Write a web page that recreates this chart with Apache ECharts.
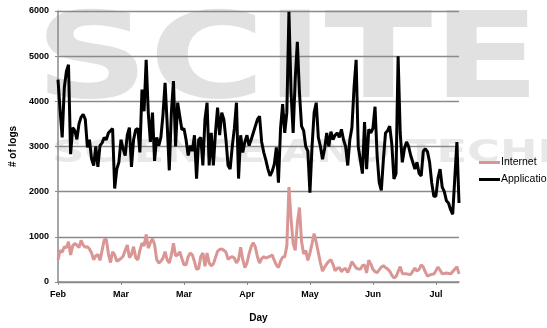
<!DOCTYPE html>
<html>
<head>
<meta charset="utf-8">
<script src="https://cdn.jsdelivr.net/npm/echarts@6/dist/echarts.min.js"></script>
<style>
  html, body { margin: 0; padding: 0; background: #fff; }
  #chart { width: 547px; height: 328px; }
</style>
</head>
<body>
<div id="chart"></div>
<script>
// Month labels placed every 30 days along the day axis
const monthTicks = ['Feb', 'Mar', 'Mar', 'Apr', 'May', 'Jun', 'Jul'];
const tickStep = 30;

// Daily log counts, Application
const application = [
  4480, 3800, 3200, 4300, 4660, 4810, 2830, 3420, 3350, 3160,
  3500, 3650, 3710, 3600, 2980, 3150, 2720, 2580, 3000, 2550,
  3020, 3080, 3200, 3150, 3300, 3350, 3400, 2070, 2500, 2650,
  3150, 2950, 2800, 3250, 3420, 2550, 3150, 3370, 3400, 2870,
  4260, 3780, 4920, 3750, 3100, 3750, 2680, 3200, 3020, 3200,
  3700, 4410, 3500, 2470, 3750, 4450, 3000, 3970, 3670, 3370,
  3400, 3150, 2800, 3020, 2900, 3250, 2290, 3150, 3200, 2580,
  3600, 3970, 2580, 3300, 2580, 3300, 3860, 3250, 3750, 3600,
  3150, 2580, 2500, 3000, 3400, 3970, 2290, 3250, 2870, 3100,
  3250, 3020, 3150, 3300, 3450, 3600, 3670, 3100, 2870, 2700,
  2500, 2350, 2450, 2600, 2980, 2200, 3400, 3940, 3300, 3750,
  5980, 4200, 3300, 4500, 5320, 4200, 3450, 3350, 3000, 2900,
  1980, 3000, 3750, 3970, 3200, 3000, 2720, 2950, 3300, 3000,
  3330, 3150, 3250, 3300, 3200, 3380, 3150, 3000, 2580, 3150,
  3420, 4300, 4920, 3000, 2700, 2400, 3540, 2500, 3380, 3300,
  3400, 3880, 2800, 2200, 2030, 2720, 3300, 3350, 3450, 3050,
  2280, 2400, 5000, 3300, 2650, 2950, 3100, 3000, 2800, 2650,
  2500, 2650, 2400, 2350, 2900, 2950, 2880, 2650, 2200, 1900,
  1900, 2300, 2500, 2100, 2000, 1800, 1750, 1600, 1500, 2300,
  3100, 1750
];

// Daily log counts, Internet
const internet = [
  490, 700, 660, 780, 760, 890, 600, 800, 850, 820,
  760, 920, 815, 770, 780, 730, 640, 490, 580, 610,
  480, 700, 930, 950, 630, 430, 670, 600, 460, 490,
  520, 570, 700, 820, 540, 610, 780, 540, 490, 700,
  860, 800, 1050, 750, 870, 960, 830, 500, 420, 460,
  530, 670, 490, 420, 600, 860, 580, 600, 670, 520,
  380, 380, 560, 640, 600, 450, 280, 300, 560, 640,
  350, 640, 420, 360, 400, 540, 680, 720, 730, 700,
  660, 500, 540, 560, 530, 420, 500, 770, 500, 320,
  420, 620, 780, 870, 770, 560, 420, 520, 560, 530,
  550, 570, 600, 480, 380, 320, 460, 550, 560, 800,
  2100, 1400, 850, 700, 1300, 1650, 900, 620, 700, 480,
  640, 850, 1070, 880, 650, 420, 240, 330, 400, 460,
  490, 390, 250, 300, 320, 230, 280, 300, 210, 320,
  450, 380, 310, 290, 280, 360, 380, 200, 480, 400,
  280, 230, 210, 270, 330, 360, 320, 290, 240, 150,
  90, 120, 230, 340, 190, 180, 180, 170, 165, 240,
  310, 240, 280, 380, 330, 220, 130, 150, 170, 175,
  250, 330, 260, 180, 190, 200, 190, 180, 230, 280,
  340, 180
];

const toPairs = arr => arr.map((v, i) => [i, v]);

const chart = echarts.init(document.getElementById('chart'), null, { renderer: 'canvas' });
const font = 'Liberation Sans, Arial, sans-serif';
const stamp = 'rgba(200,200,200,0.55)';

chart.setOption({
  animation: false,
  backgroundColor: '#ffffff',
  // faint publisher stamp behind the plot
  graphic: [
    {
      type: 'text', z: -10, silent: true,
      x: 35, y: 6, scaleX: 1.32,
      style: { text: 'SCITE', fill: stamp, font: 'bold 120px "DejaVu Sans", sans-serif' }
    },
    {
      type: 'text', z: -10, silent: true,
      x: 52, y: 138, scaleX: 1.4,
      style: { text: 'SCIENCE AND TECHNOLOGY', fill: 'rgba(205,205,205,0.45)', font: 'bold 32px "DejaVu Sans", sans-serif' }
    }
  ],
  grid: { left: 58, right: 88, top: 11, bottom: 44, containLabel: false },
  xAxis: {
    type: 'value',
    min: 0,
    max: application.length - 1,
    interval: tickStep,
    name: 'Day',
    nameLocation: 'middle',
    nameGap: 31,
    nameTextStyle: { fontFamily: font, fontSize: 10, fontWeight: 'bold', color: '#000' },
    axisLine: { lineStyle: { color: '#8a8a8a', width: 1.5 } },
    axisTick: { show: true, length: 3, inside: false, lineStyle: { color: '#8a8a8a' } },
    splitLine: { show: false },
    axisLabel: {
      margin: 8,
      fontFamily: font, fontSize: 9, fontWeight: 'bold', color: '#000',
      showMaxLabel: false,
      formatter: v => monthTicks[Math.round(v / tickStep)] || ''
    }
  },
  yAxis: {
    type: 'value',
    min: 0,
    max: 6000,
    interval: 1000,
    name: '# of logs',
    nameLocation: 'middle',
    nameRotate: 90,
    nameGap: 33,
    nameTextStyle: { fontFamily: font, fontSize: 10, fontWeight: 'bold', color: '#000' },
    axisLine: { show: true, lineStyle: { color: '#8a8a8a', width: 1.5 } },
    axisTick: { show: true, length: 3, lineStyle: { color: '#8a8a8a' } },
    splitLine: { lineStyle: { color: '#8a8a8a', width: 1.3 } },
    axisLabel: {
      margin: 9, fontFamily: font, fontSize: 9, fontWeight: 'bold', color: '#000',
      formatter: v => String(v)
    }
  },
  legend: {
    orient: 'vertical',
    left: 474,
    top: 152,
    itemWidth: 21,
    itemHeight: 14,
    itemGap: 6,
    icon: 'path://M0,6L21,6L21,9L0,9Z',
    textStyle: { fontFamily: font, fontSize: 10.5, color: '#000', padding: [0, 0, 0, -4] },
    data: ['Internet', 'Application']
  },
  series: [
    {
      name: 'Internet',
      type: 'line',
      data: toPairs(internet),
      symbol: 'none',
      lineStyle: { color: '#d99694', width: 3 },
      itemStyle: { color: '#d99694' },
      z: 3
    },
    {
      name: 'Application',
      type: 'line',
      data: toPairs(application),
      symbol: 'none',
      lineStyle: { color: '#000000', width: 3 },
      itemStyle: { color: '#000000' },
      z: 4
    }
  ]
});
</script>
</body>
</html>
